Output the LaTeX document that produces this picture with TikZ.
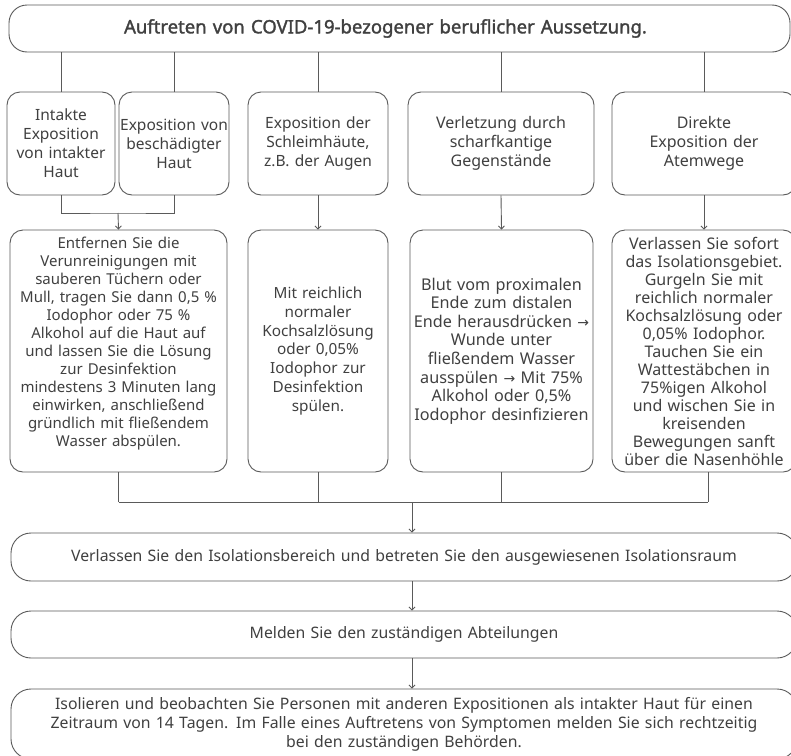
\documentclass[tikz,border=0pt]{standalone}
\usepackage{fontspec}
\setmainfont{Noto Sans}
\newfontfamily\boldfam{Noto Sans}[FakeBold=1.6]
\newfontfamily\symfam{DejaVu Sans}
\newcommand{\ra}{{\symfam\fontsize{14pt}{14pt}\selectfont →}}
\newcommand{\tightls}{\lineskiplimit=-30pt\relax\lineskip=0pt\relax}
\newcommand{\fs}[2]{\fontsize{#1pt}{#2pt}\selectfont\tightls}
\usetikzlibrary{arrows.meta}
\definecolor{ln}{HTML}{5A5A5A}
\definecolor{tx}{HTML}{404040}
\begin{document}
\begin{tikzpicture}[x=1pt,y=-1pt,
  every node/.style={text=tx},
  box/.style={draw=ln,line width=0.9pt,rounded corners=13pt,align=center,inner sep=0pt},
  wide/.style={box,rounded corners=20pt,text width=786pt,font=\fs{15.8}{19}},
  con/.style={draw=ln,line width=0.9pt},
  arr/.style={con,-{Straight Barb[length=3pt,width=6pt]}}]
\clip (0,0) rectangle (791,755);
\fill[white] (0,0) rectangle (791,755);
% top
\node[box,rounded corners=18pt,text width=781pt,minimum height=47pt,
  font=\fontsize{18.5pt}{20pt}\boldfam\selectfont] (T) at (399.5,28.5)
  {\hspace*{-28pt}Auftreten von COVID-19-bezogener beruflicher Aussetzung.};
% row 2
\node[box,text width=108pt,minimum height=103pt,font=\fs{15.5}{19}] (A) at (61,143.5)
  {Intakte\\Exposition\\von intakter\\Haut};
\node[box,text width=110pt,minimum height=103pt,font=\fs{15.5}{19}] (B) at (174,143.5)
  {Exposition von\\beschädigter\\Haut};
\node[box,text width=140pt,minimum height=103pt,font=\fs{15.5}{19}] (C) at (318,143.5)
  {Exposition der\\Schleimhäute,\\z.B. der Augen};
\node[box,text width=186pt,minimum height=103pt,font=\fs{16}{19}] (D) at (501,143.5)
  {Verletzung durch\\scharfkantige\\Gegenstände};
\node[box,text width=184pt,minimum height=103pt,font=\fs{16}{19}] (E) at (704,143.5)
  {Direkte\\Exposition der\\Atemwege};
% row 3
\node[box,text width=217pt,minimum height=242pt,font=\fs{15}{18}] (F) at (118.5,351)
  {Entfernen Sie die\\Verunreinigungen mit\\sauberen Tüchern oder\\Mull, tragen Sie dann 0,5 \%\\Iodophor oder 75 \%\\Alkohol auf die Haut auf\\und lassen Sie die Lösung\\zur Desinfektion\\mindestens 3 Minuten lang\\einwirken, anschließend\\gründlich mit fließendem\\Wasser abspülen.\\\mbox{}};
\node[box,text width=140pt,minimum height=242pt,font=\fs{15.3}{18.8}] (G) at (318,351)
  {Mit reichlich\\normaler\\Kochsalzlösung\\oder 0,05\%\\Iodophor zur\\Desinfektion\\spülen.};
\node[box,text width=183pt,minimum height=242pt,font=\fs{16.2}{18.6}] (H) at (501.5,351)
  {Blut vom proximalen\\Ende zum distalen\\Ende herausdrücken \ra\\Wunde unter\\fließendem Wasser\\ausspülen \ra{} Mit 75\%\\Alkohol oder 0,5\%\\Iodophor desinfizieren};
\node[box,text width=184pt,minimum height=242pt,font=\fs{16}{18}] (I) at (704,351)
  {Verlassen Sie sofort\\das Isolationsgebiet.\\Gurgeln Sie mit\\reichlich normaler\\Kochsalzlösung oder\\0,05\% Iodophor.\\Tauchen Sie ein\\Wattestäbchen in\\75\%igen Alkohol\\und wischen Sie in\\kreisenden\\Bewegungen sanft\\über die Nasenhöhle};
% bottom
\node[wide,minimum height=48pt] (J) at (404,557)
  {Verlassen Sie den Isolationsbereich und betreten Sie den ausgewiesenen Isolationsraum};
\node[wide,minimum height=47pt] (K) at (404,634.5)
  {Melden Sie den zuständigen Abteilungen};
\node[wide,minimum height=70pt] (L) at (404,724)
  {Isolieren und beobachten Sie Personen mit anderen Expositionen als intakter Haut für einen\\Zeitraum von 14 Tagen. Im Falle eines Auftretens von Symptomen melden Sie sich rechtzeitig\\bei den zuständigen Behörden.};
% connectors top
\foreach \n in {A,B,C,D,E} \draw[con] (T.south -| \n.north) -- (\n.north);
% A,B merge
\coordinate (m1) at (118,213);
\draw[con] (A.south) |- (m1) -| (B.south);
\draw[arr] (m1) -- (F.north);
\draw[arr] (C.south) -- (G.north);
\draw[arr] (D.south) -- (H.north);
\draw[arr] (E.south) -- (I.north);
% merge row 3
\coordinate (m2) at (412,502);
\draw[con] (F.south) -- (F.south |- m2);
\draw[con] (G.south) -- (G.south |- m2);
\draw[con] (H.south) -- (H.south |- m2);
\draw[con] ([xshift=4pt]I.south) -- ([xshift=4pt]I.south |- m2);
\draw[con] (F.south |- m2) -- ([xshift=4pt]I.south |- m2);
\draw[arr] (m2) -- (m2 |- J.north);
\draw[arr] (J.south -| m2) -- (m2 |- K.north);
\draw[arr] (K.south -| m2) -- (m2 |- L.north);
\end{tikzpicture}
\end{document}
